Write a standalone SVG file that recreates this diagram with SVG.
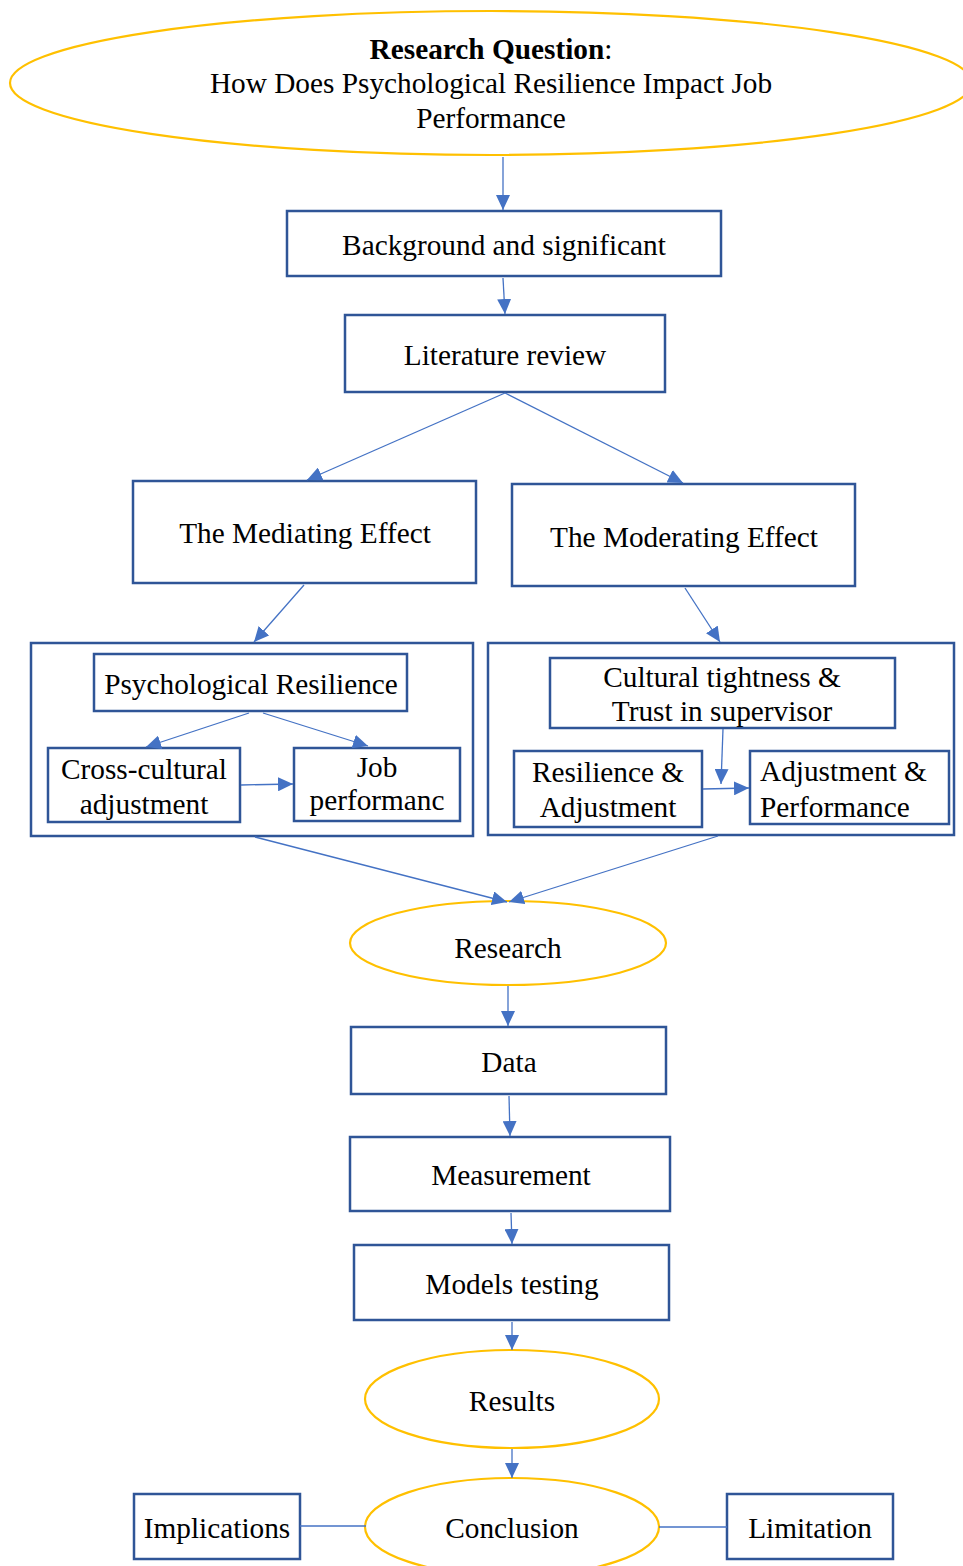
<svg xmlns="http://www.w3.org/2000/svg" width="963" height="1566" viewBox="0 0 963 1566">
  <style>
    .box { fill: #ffffff; stroke: #2F5597; stroke-width: 2.5; }
    .frame { fill: none; stroke: #2F5597; stroke-width: 2.5; }
    .oval { fill: #ffffff; stroke: #FFC000; stroke-width: 2.2; }
    .lbl { font-family: "Liberation Serif", "Times New Roman", serif; font-size: 29.3px; fill: #000000; text-anchor: middle; }
    .left { text-anchor: start; }
    .bold { font-weight: bold; }
    .conn { stroke: #4472C4; stroke-width: 1.3; fill: none; }
    .arr { marker-end: url(#head); }
  </style>
  <defs>
    <marker id="head" markerUnits="userSpaceOnUse" markerWidth="15" markerHeight="14" viewBox="0 0 15 14" refX="15" refY="7" orient="auto">
      <path d="M0,0 L15,7 L0,14 z" fill="#4472C4"/>
    </marker>
  </defs>

  <rect width="963" height="1566" fill="#ffffff"/>

  <!-- research question -->
  <g id="research-question">
    <ellipse class="oval" cx="491" cy="83" rx="481" ry="72"/>
    <text class="lbl" x="491" y="59"><tspan class="bold">Research Question</tspan>:</text>
    <text class="lbl" x="491" y="93">How Does Psychological Resilience Impact Job</text>
    <text class="lbl" x="491" y="128">Performance</text>
  </g>

  <g id="background">
    <rect class="box" x="287" y="211" width="434" height="65"/>
    <text class="lbl" x="504" y="255">Background and significant</text>
  </g>

  <g id="literature-review">
    <rect class="box" x="345" y="315" width="320" height="77"/>
    <text class="lbl" x="505" y="365">Literature review</text>
  </g>

  <g id="mediating-effect">
    <rect class="box" x="133" y="481" width="343" height="102"/>
    <text class="lbl" x="305" y="543">The Mediating Effect</text>
  </g>

  <g id="moderating-effect">
    <rect class="box" x="512" y="484" width="343" height="102"/>
    <text class="lbl" x="684" y="547">The Moderating Effect</text>
  </g>

  <!-- mediating model -->
  <g id="mediating-model">
    <rect class="frame" x="31" y="643" width="442" height="193"/>
  </g>
  <g id="psychological-resilience">
    <rect class="box" x="94" y="654" width="313" height="57"/>
    <text class="lbl" x="251" y="694">Psychological Resilience</text>
  </g>
  <g id="cross-cultural-adjustment">
    <rect class="box" x="48" y="748" width="192" height="74"/>
    <text class="lbl" x="144" y="779">Cross-cultural</text>
    <text class="lbl" x="144" y="814">adjustment</text>
  </g>
  <g id="job-performance">
    <rect class="box" x="294" y="748" width="166" height="73"/>
    <text class="lbl" x="377" y="777">Job</text>
    <text class="lbl" x="377" y="810">performanc</text>
  </g>

  <!-- moderating model -->
  <g id="moderating-model">
    <rect class="frame" x="488" y="643" width="466" height="192"/>
  </g>
  <g id="cultural-tightness">
    <rect class="box" x="550" y="658" width="345" height="70"/>
    <text class="lbl" x="722" y="687">Cultural tightness &amp;</text>
    <text class="lbl" x="722" y="721">Trust in supervisor</text>
  </g>
  <g id="resilience-adjustment">
    <rect class="box" x="514" y="751" width="188" height="76"/>
    <text class="lbl" x="608" y="782">Resilience &amp;</text>
    <text class="lbl" x="608" y="817">Adjustment</text>
  </g>
  <g id="adjustment-performance">
    <rect class="box" x="750" y="751" width="199" height="73"/>
    <text class="lbl left" x="760" y="781">Adjustment &amp;</text>
    <text class="lbl left" x="760" y="817">Performance</text>
  </g>

  <g id="research">
    <ellipse class="oval" cx="508" cy="943" rx="158" ry="42"/>
    <text class="lbl" x="508" y="958">Research</text>
  </g>

  <g id="data">
    <rect class="box" x="351" y="1027" width="315" height="67"/>
    <text class="lbl" x="509" y="1072">Data</text>
  </g>

  <g id="measurement">
    <rect class="box" x="350" y="1137" width="320" height="74"/>
    <text class="lbl" x="511" y="1185">Measurement</text>
  </g>

  <g id="models-testing">
    <rect class="box" x="354" y="1245" width="315" height="75"/>
    <text class="lbl" x="512" y="1294">Models testing</text>
  </g>

  <g id="results">
    <ellipse class="oval" cx="512" cy="1399" rx="147" ry="49"/>
    <text class="lbl" x="512" y="1411">Results</text>
  </g>

  <g id="conclusion">
    <ellipse class="oval" cx="512" cy="1527" rx="147" ry="49"/>
    <text class="lbl" x="512" y="1538">Conclusion</text>
  </g>

  <g id="implications">
    <rect class="box" x="134" y="1494" width="166" height="65"/>
    <text class="lbl" x="217" y="1538">Implications</text>
  </g>

  <g id="limitation">
    <rect class="box" x="727" y="1494" width="166" height="65"/>
    <text class="lbl" x="810" y="1538">Limitation</text>
  </g>

  <!-- connectors, drawn over the nodes -->
  <g id="connectors">
    <line class="conn arr" x1="503" y1="157" x2="503" y2="210"/>
    <line class="conn arr" x1="503" y1="278" x2="505" y2="314"/>
    <line class="conn arr" x1="505" y1="393" x2="307" y2="480"/>
    <line class="conn arr" x1="505" y1="393" x2="683" y2="483"/>
    <line class="conn arr" x1="304" y1="585" x2="254" y2="642"/>
    <line class="conn arr" x1="685" y1="588" x2="720" y2="642"/>
    <line class="conn arr" x1="249" y1="713" x2="146" y2="747"/>
    <line class="conn arr" x1="263" y1="713" x2="368" y2="746"/>
    <line class="conn arr" x1="241" y1="785" x2="293" y2="784"/>
    <line class="conn arr" x1="723" y1="729" x2="721" y2="784"/>
    <line class="conn arr" x1="703" y1="789" x2="749" y2="788"/>
    <line class="conn arr" x1="255" y1="837" x2="507" y2="902"/>
    <line class="conn arr" x1="718" y1="836" x2="509" y2="902"/>
    <line class="conn arr" x1="508" y1="986" x2="508" y2="1026"/>
    <line class="conn arr" x1="509" y1="1096" x2="510" y2="1136"/>
    <line class="conn arr" x1="511" y1="1213" x2="512" y2="1244"/>
    <line class="conn arr" x1="512" y1="1322" x2="512" y2="1350"/>
    <line class="conn arr" x1="512" y1="1449" x2="512" y2="1478"/>
    <line class="conn" x1="300" y1="1526" x2="366" y2="1526"/>
    <line class="conn" x1="659" y1="1527" x2="727" y2="1527"/>
  </g>
</svg>
